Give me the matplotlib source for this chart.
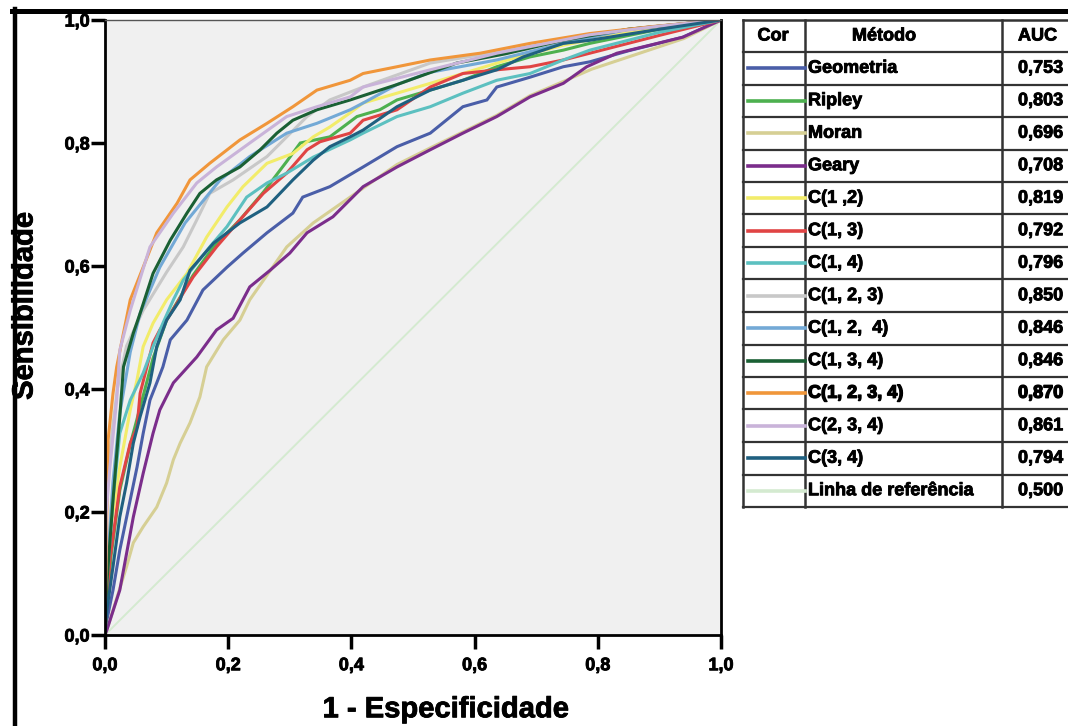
import matplotlib
matplotlib.use('Agg')
import matplotlib.pyplot as plt
import matplotlib.patheffects as pe
from matplotlib.lines import Line2D

plt.rcParams['font.family'] = ['Liberation Sans', 'DejaVu Sans']
plt.rcParams['font.weight'] = 'bold'

# ROC curves (1 - especificidade, sensibilidade)
methods = ['Geometria', 'Ripley', 'Moran', 'Geary', 'C(1 ,2)', 'C(1, 3)', 'C(1, 4)',
           'C(1, 2, 3)', 'C(1, 2,  4)', 'C(1, 3, 4)', 'C(1, 2, 3, 4)', 'C(2, 3, 4)',
           'C(3, 4)', 'Linha de referência']
auc = ['0,753', '0,803', '0,696', '0,708', '0,819', '0,792', '0,796',
       '0,850', '0,846', '0,846', '0,870', '0,861', '0,794', '0,500']
colors = ['#4a5ea8', '#4db04f', '#d6cf94', '#7b2d8b', '#f2ec6a', '#e04444', '#5cc0c0',
          '#c8c8c8', '#73a9d6', '#1a6034', '#f0963a', '#c9b3d9', '#1f6080', '#d4ead0']

geometria_x = [0, 0.003, 0.013, 0.024, 0.041, 0.052, 0.062, 0.073, 0.084, 0.094, 0.106, 0.133, 0.159,
               0.198, 0.224, 0.263, 0.305, 0.321, 0.365, 0.419, 0.474, 0.528, 0.581, 0.62, 0.636, 0.69,
               0.744, 0.787, 0.85, 0.938, 1]
geometria_y = [0, 0.024, 0.073, 0.138, 0.22, 0.273, 0.328, 0.382, 0.41, 0.436, 0.48, 0.512, 0.561,
               0.598, 0.621, 0.654, 0.686, 0.712, 0.729, 0.761, 0.794, 0.816, 0.859, 0.870, 0.891, 0.907,
               0.924, 0.932, 0.95, 0.972, 1]

ripley_x = [0, 0.003, 0.01, 0.024, 0.041, 0.057, 0.078, 0.1, 0.143, 0.176, 0.219, 0.257, 0.295, 0.317,
            0.365, 0.409, 0.446, 0.474, 0.528, 0.581, 0.636, 0.69, 0.744, 0.787, 0.9, 1]
ripley_y = [0, 0.05, 0.13, 0.235, 0.31, 0.37, 0.45, 0.512, 0.585, 0.631, 0.675, 0.72, 0.77, 0.8,
            0.81, 0.843, 0.854, 0.870, 0.886, 0.902, 0.924, 0.94, 0.951, 0.962, 0.985, 1]

moran_x = [0, 0.008, 0.035, 0.046, 0.062, 0.084, 0.1, 0.111, 0.122, 0.138, 0.154, 0.165, 0.192, 0.219,
           0.235, 0.295, 0.338, 0.398, 0.474, 0.528, 0.581, 0.636, 0.69, 0.744, 0.79, 0.85, 0.94, 1]
moran_y = [0, 0.024, 0.111, 0.15, 0.176, 0.208, 0.247, 0.285, 0.312, 0.345, 0.387, 0.436, 0.48, 0.512,
           0.545, 0.631, 0.67, 0.712, 0.765, 0.792, 0.818, 0.845, 0.877, 0.9, 0.92, 0.94, 0.97, 1]

geary_x = [0, 0.003, 0.024, 0.046, 0.062, 0.078, 0.089, 0.111, 0.149, 0.181, 0.208, 0.235, 0.268, 0.3,
           0.328, 0.37, 0.419, 0.474, 0.528, 0.581, 0.636, 0.69, 0.744, 0.782, 0.831, 0.938, 1]
geary_y = [0, 0.008, 0.073, 0.192, 0.263, 0.328, 0.366, 0.41, 0.452, 0.496, 0.515, 0.566, 0.593, 0.621,
           0.654, 0.68, 0.729, 0.761, 0.789, 0.816, 0.843, 0.875, 0.897, 0.924, 0.946, 0.972, 1]

c12_x = [0, 0.003, 0.008, 0.024, 0.041, 0.052, 0.062, 0.078, 0.1, 0.133, 0.165, 0.198, 0.224, 0.263,
         0.305, 0.338, 0.365, 0.398, 0.419, 0.474, 0.528, 0.581, 0.653, 0.744, 0.85, 1]
c12_y = [0, 0.08, 0.166, 0.273, 0.366, 0.415, 0.469, 0.507, 0.545, 0.588, 0.647, 0.696, 0.729, 0.767,
         0.783, 0.81, 0.826, 0.849, 0.865, 0.881, 0.897, 0.913, 0.935, 0.959, 0.98, 1]

c13_x = [0, 0.003, 0.008, 0.024, 0.041, 0.052, 0.057, 0.068, 0.078, 0.089, 0.1, 0.143, 0.181, 0.219,
         0.257, 0.295, 0.328, 0.349, 0.398, 0.419, 0.474, 0.528, 0.581, 0.636, 0.69, 0.744, 0.787, 0.9, 1]
c13_y = [0, 0.05, 0.122, 0.241, 0.312, 0.338, 0.393, 0.436, 0.475, 0.496, 0.512, 0.582, 0.631, 0.675,
         0.718, 0.751, 0.789, 0.802, 0.816, 0.837, 0.854, 0.891, 0.913, 0.919, 0.924, 0.935, 0.946, 0.975, 1]

c14_x = [0, 0.003, 0.013, 0.024, 0.041, 0.062, 0.078, 0.094, 0.111, 0.127, 0.17, 0.198, 0.23, 0.263,
         0.295, 0.338, 0.398, 0.419, 0.474, 0.528, 0.581, 0.636, 0.69, 0.744, 0.787, 0.9, 1]
c14_y = [0, 0.085, 0.22, 0.328, 0.382, 0.426, 0.469, 0.507, 0.545, 0.577, 0.631, 0.664, 0.712, 0.735,
         0.751, 0.777, 0.805, 0.816, 0.843, 0.859, 0.881, 0.902, 0.913, 0.935, 0.951, 0.98, 1]

c123_x = [0, 0.002, 0.008, 0.02, 0.035, 0.062, 0.1, 0.127, 0.149, 0.17, 0.208, 0.263, 0.328, 0.365,
          0.419, 0.528, 0.65, 0.744, 0.85, 1]
c123_y = [0, 0.2, 0.3, 0.4, 0.47, 0.528, 0.59, 0.631, 0.675, 0.718, 0.74, 0.778, 0.843, 0.87,
          0.891, 0.93, 0.95, 0.967, 0.985, 1]

c124_x = [0, 0.003, 0.013, 0.024, 0.041, 0.057, 0.089, 0.13, 0.187, 0.235, 0.295, 0.344, 0.398, 0.419,
          0.474, 0.528, 0.636, 0.744, 0.85, 1]
c124_y = [0, 0.1, 0.25, 0.36, 0.46, 0.523, 0.598, 0.67, 0.74, 0.778, 0.816, 0.832, 0.854, 0.865,
          0.895, 0.915, 0.935, 0.962, 0.985, 1]

c134_x = [0, 0.003, 0.013, 0.024, 0.03, 0.046, 0.057, 0.078, 0.106, 0.133, 0.154, 0.181, 0.219, 0.252,
          0.279, 0.305, 0.344, 0.398, 0.474, 0.571, 0.65, 0.744, 0.85, 1]
c134_y = [0, 0.085, 0.22, 0.355, 0.436, 0.491, 0.523, 0.588, 0.642, 0.686, 0.718, 0.74, 0.761, 0.789,
          0.816, 0.837, 0.854, 0.870, 0.895, 0.93, 0.945, 0.967, 0.985, 1]

c1234_x = [0, 0.003, 0.005, 0.013, 0.019, 0.03, 0.041, 0.062, 0.084, 0.117, 0.138, 0.17, 0.219, 0.263,
           0.305, 0.344, 0.398, 0.419, 0.474, 0.528, 0.609, 0.69, 0.787, 0.885, 1]
c1234_y = [0, 0.2, 0.317, 0.393, 0.436, 0.491, 0.545, 0.598, 0.654, 0.702, 0.74, 0.767, 0.805, 0.832,
           0.859, 0.886, 0.902, 0.913, 0.924, 0.935, 0.946, 0.962, 0.978, 0.989, 1]

c234_x = [0, 0.002, 0.008, 0.019, 0.024, 0.041, 0.073, 0.111, 0.149, 0.181, 0.235, 0.295, 0.344, 0.398,
          0.419, 0.528, 0.636, 0.787, 0.9, 1]
c234_y = [0, 0.2, 0.273, 0.382, 0.463, 0.528, 0.631, 0.686, 0.735, 0.761, 0.8, 0.843, 0.859, 0.875,
          0.891, 0.919, 0.946, 0.976, 0.99, 1]

c34_x = [0, 0.003, 0.013, 0.024, 0.035, 0.046, 0.057, 0.073, 0.084, 0.1, 0.122, 0.138, 0.176, 0.219,
         0.263, 0.305, 0.338, 0.365, 0.398, 0.419, 0.474, 0.528, 0.581, 0.636, 0.679, 0.744, 0.787, 0.9, 1]
c34_y = [0, 0.04, 0.111, 0.192, 0.247, 0.312, 0.355, 0.41, 0.469, 0.512, 0.545, 0.593, 0.637, 0.67,
         0.696, 0.74, 0.772, 0.794, 0.81, 0.821, 0.859, 0.886, 0.902, 0.919, 0.94, 0.962, 0.967, 0.985, 1]

ref_x = [0, 1]
ref_y = [0, 1]

curves = [(geometria_x, geometria_y), (ripley_x, ripley_y), (moran_x, moran_y), (geary_x, geary_y),
          (c12_x, c12_y), (c13_x, c13_y), (c14_x, c14_y), (c123_x, c123_y), (c124_x, c124_y),
          (c134_x, c134_y), (c1234_x, c1234_y), (c234_x, c234_y), (c34_x, c34_y), (ref_x, ref_y)]

ticks = [0, 0.2, 0.4, 0.6, 0.8, 1.0]
tick_labels = ['0,0', '0,2', '0,4', '0,6', '0,8', '1,0']

# heavier look for all the text, like the original export
heavy = [pe.withStroke(linewidth=0.6, foreground='black')]
heavier = [pe.withStroke(linewidth=1.0, foreground='black')]

W, H = 1068, 726
fig = plt.figure(figsize=(W / 100, H / 100), dpi=100)
ax = fig.add_axes([105 / W, 1 - 635 / H, 616 / W, 615 / H])
ax.set_facecolor('#f0f0f0')

# reference line under the curves
ax.plot(ref_x, ref_y, color=colors[-1], lw=1.4, zorder=1)
for (cx, cy), col in zip(curves[:-1], colors[:-1]):
    ax.plot(cx, cy, color=col, lw=2.2, zorder=2, solid_joinstyle='miter')

ax.set_xlim(0, 1)
ax.set_ylim(0, 1)
ax.set_xticks(ticks)
ax.set_yticks(ticks)
ax.set_xticklabels(tick_labels, fontsize=13, fontweight='bold')
ax.set_yticklabels(tick_labels, fontsize=13, fontweight='bold')
for lab in ax.get_xticklabels() + ax.get_yticklabels():
    lab.set_path_effects(heavy)
ax.tick_params(direction='out', length=10, width=2.5, pad=6)
ax.tick_params(axis='y', pad=1)
for side in ['left', 'bottom', 'right']:
    ax.spines[side].set_linewidth(2)
    ax.spines[side].set_color('black')
ax.spines['top'].set_linewidth(1)
ax.spines['top'].set_color('#555555')

ax.set_xlabel('1 - Especificidade', fontsize=21, fontweight='bold', path_effects=heavy)
ax.set_ylabel('Sensibilidade', fontsize=21, fontweight='bold', path_effects=heavy)
ax.xaxis.set_label_coords(0.553, -0.098)
ax.yaxis.set_label_coords(-0.108, 0.535)


def fx(px):
    return px / W


def fy(py):
    return 1 - py / H


# outer frame (top and left edges visible)
fig.add_artist(Line2D([fx(12), fx(W)], [fy(10.5), fy(10.5)], color='black', lw=3.6))
fig.add_artist(Line2D([fx(14.5), fx(14.5)], [fy(8.5), fy(H)], color='black', lw=3.2))

# legend table
top, head_h, row_h = 20, 32, 32.5
x0, x1, x2, x3 = 743, 805, 1002, W + 5
n = len(methods)
bottom = top + head_h + n * row_h
frame_col = '#333333'
fig.add_artist(Line2D([fx(x0), fx(x3)], [fy(top), fy(top)], color=frame_col, lw=1.8))
for i in range(n + 1):
    yy = top + head_h + i * row_h
    fig.add_artist(Line2D([fx(x0), fx(x3)], [fy(yy), fy(yy)], color=frame_col, lw=1.6))
for xx in (x0, x1, x2):
    fig.add_artist(Line2D([fx(xx), fx(xx)], [fy(top), fy(bottom)], color=frame_col, lw=1.8))

hy = fy(top + head_h / 2)
fig.text(fx(773), hy, 'Cor', ha='center', va='center', fontsize=13, fontweight='bold', path_effects=heavy)
fig.text(fx(884), hy, 'Método', ha='center', va='center', fontsize=13, fontweight='bold', path_effects=heavy)
fig.text(fx(1018), hy, 'AUC', ha='left', va='center', fontsize=13, fontweight='bold', path_effects=heavy)

for i, (name, val, col) in enumerate(zip(methods, auc, colors)):
    yc = fy(top + head_h + (i + 0.5) * row_h)
    fig.add_artist(Line2D([fx(748), fx(x1)], [yc, yc], color=col, lw=2.6))
    effects = heavier if name == 'C(1, 2, 3, 4)' else heavy
    fig.text(fx(808), yc, name, ha='left', va='center', fontsize=13, fontweight='bold',
             path_effects=effects)
    fig.text(fx(1018), yc, val, ha='left', va='center', fontsize=13, fontweight='bold',
             path_effects=effects)

fig.savefig('out.png', dpi=100)
